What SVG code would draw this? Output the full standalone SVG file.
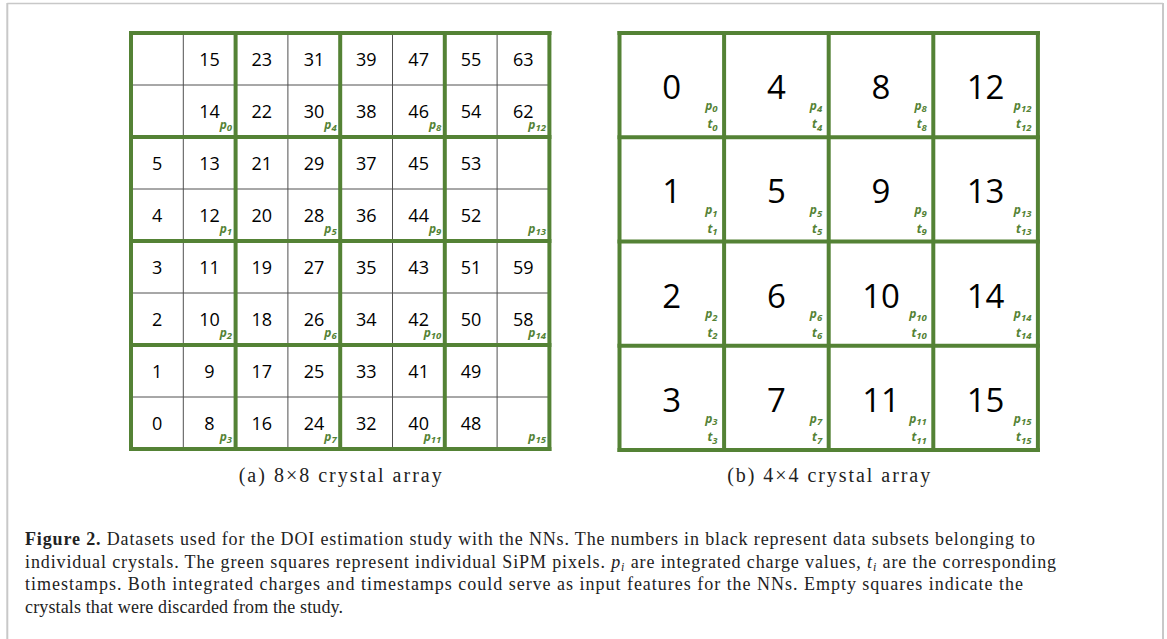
<svg xmlns="http://www.w3.org/2000/svg" width="1167" height="639" viewBox="0 0 1167 639">
<style>
.frame{stroke:#c8c8c8;fill:none}
.thin{stroke:#505050;stroke-width:1;fill:none}
.thick{stroke:#548235;stroke-width:4;fill:none;stroke-linecap:square}
.n{font-family:"Open Sans","DejaVu Sans",sans-serif;font-size:18px;fill:#000;text-anchor:middle}
.N{font-family:"Open Sans","DejaVu Sans",sans-serif;font-size:33px;fill:#000;text-anchor:middle}
.lab{font-family:"Open Sans","DejaVu Sans",sans-serif;font-size:12px;font-weight:bold;font-style:italic;fill:#548235;text-anchor:end}
.sub{font-size:9.5px}
.cap{font-family:"Liberation Serif","Times New Roman",serif;font-size:18px;fill:#222}
.sublab{font-family:"Liberation Serif","Times New Roman",serif;font-size:20px;fill:#222;text-anchor:middle}
</style>
<rect x="0" y="0" width="1167" height="639" fill="#fff"/>
<g id="frame">
<line class="frame" x1="7.3" y1="3.5" x2="1163" y2="3.5" stroke-width="1.3"/>
<line class="frame" x1="7.3" y1="3" x2="7.3" y2="639" stroke-width="2"/>
<line class="frame" x1="1163" y1="3" x2="1163" y2="639" stroke-width="2"/>
</g>
<g id="grid8x8">
<rect x="131" y="33" width="418.4" height="416" fill="#fff"/>
<g class="thin">
<line x1="183.3" y1="33" x2="183.3" y2="449"/>
<line x1="287.9" y1="33" x2="287.9" y2="449"/>
<line x1="392.5" y1="33" x2="392.5" y2="449"/>
<line x1="497.1" y1="33" x2="497.1" y2="449"/>
<line x1="131" y1="85" x2="549.4" y2="85"/>
<line x1="131" y1="189" x2="549.4" y2="189"/>
<line x1="131" y1="293" x2="549.4" y2="293"/>
<line x1="131" y1="397" x2="549.4" y2="397"/>
</g>
<g class="thick">
<line x1="131" y1="33" x2="131" y2="449"/>
<line x1="235.6" y1="33" x2="235.6" y2="449"/>
<line x1="340.2" y1="33" x2="340.2" y2="449"/>
<line x1="444.8" y1="33" x2="444.8" y2="449"/>
<line x1="549.4" y1="33" x2="549.4" y2="449"/>
<line x1="131" y1="33" x2="549.4" y2="33"/>
<line x1="131" y1="137" x2="549.4" y2="137"/>
<line x1="131" y1="241" x2="549.4" y2="241"/>
<line x1="131" y1="345" x2="549.4" y2="345"/>
<line x1="131" y1="449" x2="549.4" y2="449"/>
</g>
<g id="nums8">
<text class="n" x="209.45" y="65.5">15</text><text class="n" x="261.75" y="65.5">23</text><text class="n" x="314.05" y="65.5">31</text><text class="n" x="366.35" y="65.5">39</text><text class="n" x="418.65" y="65.5">47</text><text class="n" x="470.95" y="65.5">55</text><text class="n" x="523.25" y="65.5">63</text>
<text class="n" x="209.45" y="117.5">14</text><text class="n" x="261.75" y="117.5">22</text><text class="n" x="314.05" y="117.5">30</text><text class="n" x="366.35" y="117.5">38</text><text class="n" x="418.65" y="117.5">46</text><text class="n" x="470.95" y="117.5">54</text><text class="n" x="523.25" y="117.5">62</text>
<text class="n" x="157.15" y="169.5">5</text><text class="n" x="209.45" y="169.5">13</text><text class="n" x="261.75" y="169.5">21</text><text class="n" x="314.05" y="169.5">29</text><text class="n" x="366.35" y="169.5">37</text><text class="n" x="418.65" y="169.5">45</text><text class="n" x="470.95" y="169.5">53</text>
<text class="n" x="157.15" y="221.5">4</text><text class="n" x="209.45" y="221.5">12</text><text class="n" x="261.75" y="221.5">20</text><text class="n" x="314.05" y="221.5">28</text><text class="n" x="366.35" y="221.5">36</text><text class="n" x="418.65" y="221.5">44</text><text class="n" x="470.95" y="221.5">52</text>
<text class="n" x="157.15" y="273.5">3</text><text class="n" x="209.45" y="273.5">11</text><text class="n" x="261.75" y="273.5">19</text><text class="n" x="314.05" y="273.5">27</text><text class="n" x="366.35" y="273.5">35</text><text class="n" x="418.65" y="273.5">43</text><text class="n" x="470.95" y="273.5">51</text><text class="n" x="523.25" y="273.5">59</text>
<text class="n" x="157.15" y="325.5">2</text><text class="n" x="209.45" y="325.5">10</text><text class="n" x="261.75" y="325.5">18</text><text class="n" x="314.05" y="325.5">26</text><text class="n" x="366.35" y="325.5">34</text><text class="n" x="418.65" y="325.5">42</text><text class="n" x="470.95" y="325.5">50</text><text class="n" x="523.25" y="325.5">58</text>
<text class="n" x="157.15" y="377.5">1</text><text class="n" x="209.45" y="377.5">9</text><text class="n" x="261.75" y="377.5">17</text><text class="n" x="314.05" y="377.5">25</text><text class="n" x="366.35" y="377.5">33</text><text class="n" x="418.65" y="377.5">41</text><text class="n" x="470.95" y="377.5">49</text>
<text class="n" x="157.15" y="429.5">0</text><text class="n" x="209.45" y="429.5">8</text><text class="n" x="261.75" y="429.5">16</text><text class="n" x="314.05" y="429.5">24</text><text class="n" x="366.35" y="429.5">32</text><text class="n" x="418.65" y="429.5">40</text><text class="n" x="470.95" y="429.5">48</text>
</g>
<g id="labels8">
<text class="lab" x="232.1" y="128.5">p<tspan class="sub" dy="2.5">0</tspan></text>
<text class="lab" x="336.7" y="128.5">p<tspan class="sub" dy="2.5">4</tspan></text>
<text class="lab" x="441.3" y="128.5">p<tspan class="sub" dy="2.5">8</tspan></text>
<text class="lab" x="545.9" y="128.5">p<tspan class="sub" dy="2.5">12</tspan></text>
<text class="lab" x="232.1" y="232.5">p<tspan class="sub" dy="2.5">1</tspan></text>
<text class="lab" x="336.7" y="232.5">p<tspan class="sub" dy="2.5">5</tspan></text>
<text class="lab" x="441.3" y="232.5">p<tspan class="sub" dy="2.5">9</tspan></text>
<text class="lab" x="545.9" y="232.5">p<tspan class="sub" dy="2.5">13</tspan></text>
<text class="lab" x="232.1" y="336.5">p<tspan class="sub" dy="2.5">2</tspan></text>
<text class="lab" x="336.7" y="336.5">p<tspan class="sub" dy="2.5">6</tspan></text>
<text class="lab" x="441.3" y="336.5">p<tspan class="sub" dy="2.5">10</tspan></text>
<text class="lab" x="545.9" y="336.5">p<tspan class="sub" dy="2.5">14</tspan></text>
<text class="lab" x="232.1" y="440.5">p<tspan class="sub" dy="2.5">3</tspan></text>
<text class="lab" x="336.7" y="440.5">p<tspan class="sub" dy="2.5">7</tspan></text>
<text class="lab" x="441.3" y="440.5">p<tspan class="sub" dy="2.5">11</tspan></text>
<text class="lab" x="545.9" y="440.5">p<tspan class="sub" dy="2.5">15</tspan></text>
</g>
<text class="sublab" x="340.2" y="482" textLength="203" lengthAdjust="spacing">(a) 8×8 crystal array</text>
</g>
<g id="grid4x4">
<rect x="619.5" y="33" width="418.4" height="417" fill="#fff"/>
<g class="thick">
<line x1="619.5" y1="33" x2="619.5" y2="450"/>
<line x1="724.1" y1="33" x2="724.1" y2="450"/>
<line x1="828.7" y1="33" x2="828.7" y2="450"/>
<line x1="933.3" y1="33" x2="933.3" y2="450"/>
<line x1="1037.9" y1="33" x2="1037.9" y2="450"/>
<line x1="619.5" y1="33" x2="1037.9" y2="33"/>
<line x1="619.5" y1="137.25" x2="1037.9" y2="137.25"/>
<line x1="619.5" y1="241.5" x2="1037.9" y2="241.5"/>
<line x1="619.5" y1="345.75" x2="1037.9" y2="345.75"/>
<line x1="619.5" y1="450" x2="1037.9" y2="450"/>
</g>
<g id="nums4">
<text class="N" x="671.8" y="99.1">0</text><text class="N" x="776.4" y="99.1">4</text><text class="N" x="881" y="99.1">8</text><text class="N" x="985.6" y="99.1">12</text>
<text class="N" x="671.8" y="203.4">1</text><text class="N" x="776.4" y="203.4">5</text><text class="N" x="881" y="203.4">9</text><text class="N" x="985.6" y="203.4">13</text>
<text class="N" x="671.8" y="307.6">2</text><text class="N" x="776.4" y="307.6">6</text><text class="N" x="881" y="307.6">10</text><text class="N" x="985.6" y="307.6">14</text>
<text class="N" x="671.8" y="411.9">3</text><text class="N" x="776.4" y="411.9">7</text><text class="N" x="881" y="411.9">11</text><text class="N" x="985.6" y="411.9">15</text>
</g>
<g id="labels4">
<text class="lab" x="717.6" y="109.75">p<tspan class="sub" dy="2.5">0</tspan></text><text class="lab" x="717.6" y="128.25">t<tspan class="sub" dy="2.5">0</tspan></text>
<text class="lab" x="822.2" y="109.75">p<tspan class="sub" dy="2.5">4</tspan></text><text class="lab" x="822.2" y="128.25">t<tspan class="sub" dy="2.5">4</tspan></text>
<text class="lab" x="926.8" y="109.75">p<tspan class="sub" dy="2.5">8</tspan></text><text class="lab" x="926.8" y="128.25">t<tspan class="sub" dy="2.5">8</tspan></text>
<text class="lab" x="1031.4" y="109.75">p<tspan class="sub" dy="2.5">12</tspan></text><text class="lab" x="1031.4" y="128.25">t<tspan class="sub" dy="2.5">12</tspan></text>
<text class="lab" x="717.6" y="214">p<tspan class="sub" dy="2.5">1</tspan></text><text class="lab" x="717.6" y="232.5">t<tspan class="sub" dy="2.5">1</tspan></text>
<text class="lab" x="822.2" y="214">p<tspan class="sub" dy="2.5">5</tspan></text><text class="lab" x="822.2" y="232.5">t<tspan class="sub" dy="2.5">5</tspan></text>
<text class="lab" x="926.8" y="214">p<tspan class="sub" dy="2.5">9</tspan></text><text class="lab" x="926.8" y="232.5">t<tspan class="sub" dy="2.5">9</tspan></text>
<text class="lab" x="1031.4" y="214">p<tspan class="sub" dy="2.5">13</tspan></text><text class="lab" x="1031.4" y="232.5">t<tspan class="sub" dy="2.5">13</tspan></text>
<text class="lab" x="717.6" y="318.25">p<tspan class="sub" dy="2.5">2</tspan></text><text class="lab" x="717.6" y="336.75">t<tspan class="sub" dy="2.5">2</tspan></text>
<text class="lab" x="822.2" y="318.25">p<tspan class="sub" dy="2.5">6</tspan></text><text class="lab" x="822.2" y="336.75">t<tspan class="sub" dy="2.5">6</tspan></text>
<text class="lab" x="926.8" y="318.25">p<tspan class="sub" dy="2.5">10</tspan></text><text class="lab" x="926.8" y="336.75">t<tspan class="sub" dy="2.5">10</tspan></text>
<text class="lab" x="1031.4" y="318.25">p<tspan class="sub" dy="2.5">14</tspan></text><text class="lab" x="1031.4" y="336.75">t<tspan class="sub" dy="2.5">14</tspan></text>
<text class="lab" x="717.6" y="422.5">p<tspan class="sub" dy="2.5">3</tspan></text><text class="lab" x="717.6" y="441">t<tspan class="sub" dy="2.5">3</tspan></text>
<text class="lab" x="822.2" y="422.5">p<tspan class="sub" dy="2.5">7</tspan></text><text class="lab" x="822.2" y="441">t<tspan class="sub" dy="2.5">7</tspan></text>
<text class="lab" x="926.8" y="422.5">p<tspan class="sub" dy="2.5">11</tspan></text><text class="lab" x="926.8" y="441">t<tspan class="sub" dy="2.5">11</tspan></text>
<text class="lab" x="1031.4" y="422.5">p<tspan class="sub" dy="2.5">15</tspan></text><text class="lab" x="1031.4" y="441">t<tspan class="sub" dy="2.5">15</tspan></text>
</g>
<text class="sublab" x="828.7" y="482" textLength="203" lengthAdjust="spacing">(b) 4×4 crystal array</text>
</g>
<g id="caption">
<text class="cap" x="25" y="545" textLength="1010" lengthAdjust="spacing"><tspan font-weight="bold">Figure 2.</tspan> Datasets used for the DOI estimation study with the NNs. The numbers in black represent data subsets belonging to</text>
<text class="cap" x="25" y="567.7" textLength="1031" lengthAdjust="spacing">individual crystals. The green squares represent individual SiPM pixels. <tspan font-style="italic">p</tspan><tspan font-style="italic" font-size="12" dy="3">i</tspan><tspan dy="-3"> are integrated charge values, </tspan><tspan font-style="italic">t</tspan><tspan font-style="italic" font-size="12" dy="3">i</tspan><tspan dy="-3"> are the corresponding</tspan></text>
<text class="cap" x="25" y="590.3" textLength="998" lengthAdjust="spacing">timestamps. Both integrated charges and timestamps could serve as input features for the NNs. Empty squares indicate the</text>
<text class="cap" x="25" y="613" textLength="318" lengthAdjust="spacing">crystals that were discarded from the study.</text>
</g>
</svg>
